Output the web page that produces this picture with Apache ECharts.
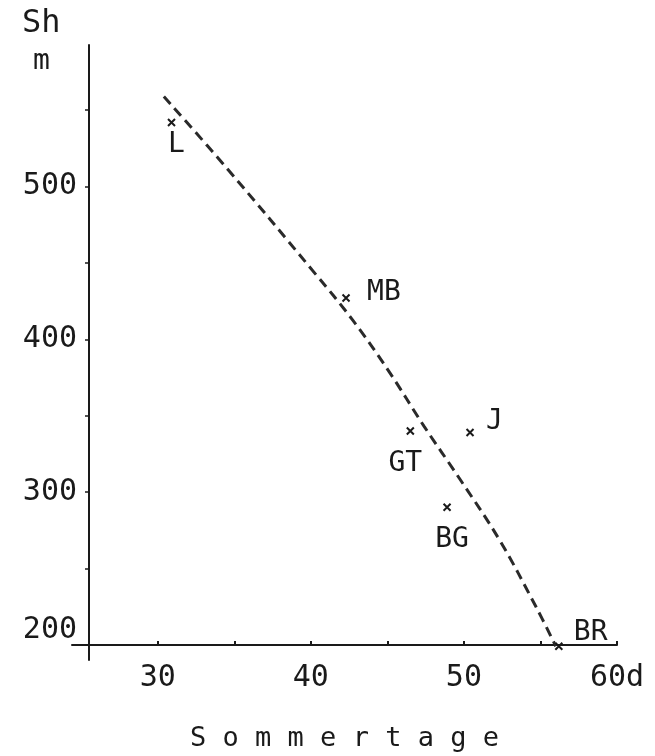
<!DOCTYPE html>
<html>
<head>
<meta charset="utf-8">
<script src="https://cdn.jsdelivr.net/npm/echarts@6/dist/echarts.min.js"></script>
<style>
  html, body { margin: 0; padding: 0; background: #fff; }
  #chart { width: 655px; height: 756px; }
</style>
</head>
<body>
<div id="chart"></div>
<script>
// Stations: number of summer days vs. snow-line height (m)
const stationNames   = ['L', 'MB', 'GT', 'J', 'BG', 'BR'];
const stationDays    = [30.9, 42.3, 46.5, 50.4, 48.9, 56.2];
const stationHeights = [542, 427, 340, 339, 290, 199];

// Hand-drawn trend curve (dashed)
const trendDays    = [30.4, 34.6, 40.2, 42.7, 45.1, 47.4, 49.7, 52.3, 54.7, 56.0];
const trendHeights = [559, 511, 444, 413, 379, 343, 309, 269, 225, 199];

// Axis ticks and labels
const xTicks  = [30, 35, 40, 45, 50, 55, 60];
const xLabels = [30, 40, 50, 60];
const yTicks  = [200, 250, 300, 350, 400, 450, 500, 550];
const yLabels = [200, 300, 400, 500];

const FONT = 'DejaVu Sans Mono';
const INK = '#1a1a1a';

const labelPlacement = {
  'L':  { position: 'bottom', offset: [5, -4] },
  'MB': { position: 'right',  offset: [9, -5] },
  'GT': { position: 'bottom', offset: [-5, 7] },
  'J':  { position: 'right',  offset: [4, -11] },
  'BG': { position: 'bottom', offset: [5, 6] },
  'BR': { position: 'right',  offset: [3, -14] }
};

const stationData = stationNames.map((n, i) => ({
  value: [stationDays[i], stationHeights[i]],
  name: n,
  label: labelPlacement[n]
}));

const chart = echarts.init(document.getElementById('chart'));
chart.setOption({
  animation: false,
  backgroundColor: '#fff',
  grid: { left: 72, right: 38, top: 45, bottom: 96, containLabel: false, outerBoundsMode: 'none' },
  xAxis: {
    type: 'value',
    min: 24.4,
    max: 60,
    offset: -15,
    axisLine: { onZero: false, lineStyle: { color: INK, width: 2 } },
    axisTick: { show: true, customValues: xTicks, length: 4, inside: true,
                lineStyle: { color: INK, width: 2 } },
    axisLabel: {
      customValues: xLabels,
      margin: 18,
      color: INK,
      fontFamily: FONT,
      fontSize: 30,
      formatter: v => (v === 60 ? '60d' : String(v))
    },
    splitLine: { show: false },
    name: 'S o m m e r t a g e',
    nameLocation: 'middle',
    nameGap: 80,
    nameTextStyle: { color: INK, fontFamily: FONT, fontSize: 27 }
  },
  yAxis: {
    type: 'value',
    min: 190,
    max: 592.7,
    offset: -17,
    axisLine: { onZero: false, lineStyle: { color: INK, width: 2 } },
    axisTick: { show: true, customValues: yTicks, length: 4,
                lineStyle: { color: INK, width: 1.5 } },
    axisLabel: {
      customValues: yLabels,
      margin: 12,
      color: INK,
      fontFamily: FONT,
      fontSize: 30,
      // the lowest label sits just above the horizontal axis
      formatter: v => (v === 200 ? '{low|200}' : String(v)),
      rich: {
        low: { fontFamily: FONT, fontSize: 30, color: INK, padding: [0, 0, 30, 0] }
      }
    },
    splitLine: { show: false }
  },
  graphic: [
    { type: 'text', left: 22, top: 8,
      style: { text: 'Sh', font: '32px "DejaVu Sans Mono"', fill: INK } },
    { type: 'text', left: 33, top: 48,
      style: { text: 'm', font: '28px "DejaVu Sans Mono"', fill: INK } }
  ],
  series: [
    {
      type: 'line',
      data: trendDays.map((d, i) => [d, trendHeights[i]]),
      smooth: 0.4,
      showSymbol: false,
      lineStyle: { color: '#2a2a2a', width: 3, type: [10, 6] },
      z: 2
    },
    {
      type: 'scatter',
      data: stationData,
      symbol: 'path://M0,0L10,10M10,0L0,10',
      symbolSize: 7,
      itemStyle: { color: 'none', borderColor: INK, borderWidth: 2, opacity: 1 },
      label: {
        show: true,
        formatter: p => p.name,
        color: INK,
        fontFamily: FONT,
        fontSize: 28,
        distance: 6
      },
      z: 3
    }
  ]
});
</script>
</body>
</html>
